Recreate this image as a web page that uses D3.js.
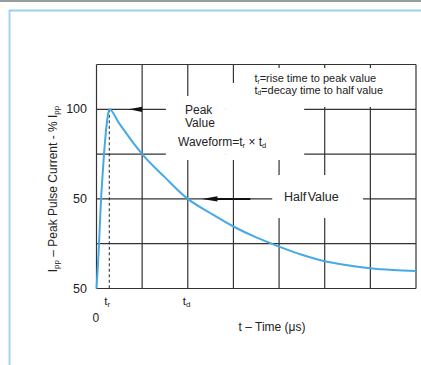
<!DOCTYPE html>
<html>
<head>
<meta charset="utf-8">
<script src="https://cdn.jsdelivr.net/npm/d3@7"></script>
<style>
  body { margin: 0; background: #fff; }
  svg { display: block; font-family: "Liberation Sans", Arial, sans-serif; }
</style>
</head>
<body>
<svg width="421" height="365"></svg>
<script>
// pulse waveform
const timeUs = [0, 0.05, 0.09, 0.14, 0.19, 0.24, 0.28, 0.5, 1, 1.5, 2, 2.5, 3, 3.5, 4, 4.5, 5, 5.5, 6, 6.5, 7];
const currentPct = [0, 22, 45, 66, 83, 95, 100, 92, 75, 62, 50, 42, 34.6, 28.5, 23.4, 18.8, 15.2, 13, 11.3, 10.3, 9.7];

const xGrid = [0, 1, 2, 3, 4, 5, 6, 7];
const yGrid = [0, 25, 50, 75, 100, 125];
const yTickValues = [100, 50, 0];
const yTickText = ["100", "50", "50"];
const riseTime = 0.28;
const decayTime = 2;

const svg = d3.select("svg");
const W = 421, H = 365;

// page frame
svg.append("rect").attr("x", 0).attr("y", 0).attr("width", W).attr("height", 2).attr("fill", "#9a9a9a");
svg.append("path")
  .attr("d", `M9.5,${H} V10.5 H${W}`)
  .attr("fill", "none").attr("stroke", "#9ccff2").attr("stroke-width", 1.8);

const x = d3.scaleLinear().domain([0, 7]).range([96.5, 416]);
const y = d3.scaleLinear().domain([0, 125]).range([288.5, 64.5]);

// grid
const grid = svg.append("g").attr("stroke", "#333").attr("stroke-width", 1.2);
grid.selectAll(".v").data(xGrid).enter().append("line")
  .attr("x1", d => x(d)).attr("x2", d => x(d))
  .attr("y1", y(0)).attr("y2", y(125));
grid.selectAll(".h").data(yGrid).enter().append("line")
  .attr("x1", x(0)).attr("x2", x(7))
  .attr("y1", d => y(d)).attr("y2", d => y(d));

// white boxes behind the annotations (t0, t1, v0, v1)
const boxes = [
  [3.25, 6.87, 101.3, 123],
  [2.82, 4.55, 71.7, 114.7],
  [1.52, 2.82, 71.7, 107.4],
  [3.85, 5.84, 39.3, 63.3]
];
svg.append("g").selectAll("rect").data(boxes).enter().append("rect")
  .attr("x", d => x(d[0])).attr("y", d => y(d[3]))
  .attr("width", d => x(d[1]) - x(d[0])).attr("height", d => y(d[2]) - y(d[3]))
  .attr("fill", "#fff");

// arrows
function arrowHead(tTip, tBase, v) {
  const yy = y(v);
  return `M${x(tTip)},${yy} L${x(tBase)},${yy - 2.6} L${x(tBase)},${yy + 2.6} Z`;
}
svg.append("path").attr("d", arrowHead(0.71, 1.0, 100)).attr("fill", "#111");
svg.append("path").attr("d", arrowHead(2.31, 2.65, 50)).attr("fill", "#111");
svg.append("line")
  .attr("x1", x(2.6)).attr("x2", x(3.37)).attr("y1", y(50)).attr("y2", y(50))
  .attr("stroke", "#111").attr("stroke-width", 2);

// rise time marker
svg.append("line")
  .attr("x1", x(riseTime)).attr("x2", x(riseTime))
  .attr("y1", y(100)).attr("y2", y(0))
  .attr("stroke", "#222").attr("stroke-width", 1).attr("stroke-dasharray", "3,2.5");

// curve
const pts = timeUs.map((t, i) => [t, currentPct[i]]);
svg.append("path")
  .datum(pts)
  .attr("fill", "none")
  .attr("stroke", "#45a9e6")
  .attr("stroke-width", 2)
  .attr("d", d3.line().x(d => x(d[0])).y(d => y(d[1])).curve(d3.curveMonotoneX));

// text helpers
function sub(sel, main, s, size) {
  sel.append("tspan").text(main);
  sel.append("tspan").text(s).attr("font-size", size).attr("dy", 2);
  return sel;
}

const txt = svg.append("g").attr("fill", "#222");

// y tick labels
txt.selectAll(".yl").data(yTickValues).enter().append("text")
  .attr("x", 87).attr("y", d => y(d) + 4)
  .attr("text-anchor", "end").attr("font-size", 12.5)
  .text((d, i) => yTickText[i]);

// x labels
const trLab = txt.append("text").attr("x", x(riseTime) - 5).attr("y", 305).attr("font-size", 11.5);
sub(trLab, "t", "r", 8);
const tdLab = txt.append("text").attr("x", x(decayTime) - 5).attr("y", 305).attr("font-size", 11.5);
sub(tdLab, "t", "d", 8);
txt.append("text").attr("x", x(0) - 4).attr("y", 322).attr("font-size", 12).text("0");
txt.append("text").attr("x", 272).attr("y", 331).attr("text-anchor", "middle")
  .attr("font-size", 12).text("t – Time (μs)");

// y title
const yt = txt.append("text")
  .attr("transform", "translate(57,189) rotate(-90)")
  .attr("text-anchor", "middle").attr("font-size", 12);
yt.append("tspan").text("I");
yt.append("tspan").text("pp").attr("font-size", 8).attr("dy", 2);
yt.append("tspan").text(" – Peak Pulse Current - % I").attr("dy", -2);
yt.append("tspan").text("pp").attr("font-size", 8).attr("dy", 2);

// legend note
const l1 = txt.append("text").attr("x", x(3.46)).attr("y", 82).attr("font-size", 11);
l1.append("tspan").text("t");
l1.append("tspan").text("r").attr("font-size", 6.5).attr("dy", 1.5);
l1.append("tspan").text("=rise time to peak value").attr("dy", -1.5);
const l2 = txt.append("text").attr("x", x(3.46)).attr("y", 93.5).attr("font-size", 11);
l2.append("tspan").text("t");
l2.append("tspan").text("d").attr("font-size", 6.5).attr("dy", 1.5);
l2.append("tspan").text("=decay time to half value").attr("dy", -1.5);

// annotations
txt.append("text").attr("x", 185).attr("y", 113.5).attr("font-size", 12).text("Peak");
txt.append("text").attr("x", 185).attr("y", 126.5).attr("font-size", 12).text("Value");
const wf = txt.append("text").attr("x", 178).attr("y", 146).attr("font-size", 12);
wf.append("tspan").text("Waveform=t");
wf.append("tspan").text("r").attr("font-size", 7.5).attr("dy", 1.5);
wf.append("tspan").text(" × t").attr("dy", -1.5);
wf.append("tspan").text("d").attr("font-size", 7.5).attr("dy", 1.5);
txt.append("text").attr("x", 284).attr("y", 201).attr("font-size", 12.5)
  .attr("word-spacing", -2).text("Half Value");
</script>
</body>
</html>
